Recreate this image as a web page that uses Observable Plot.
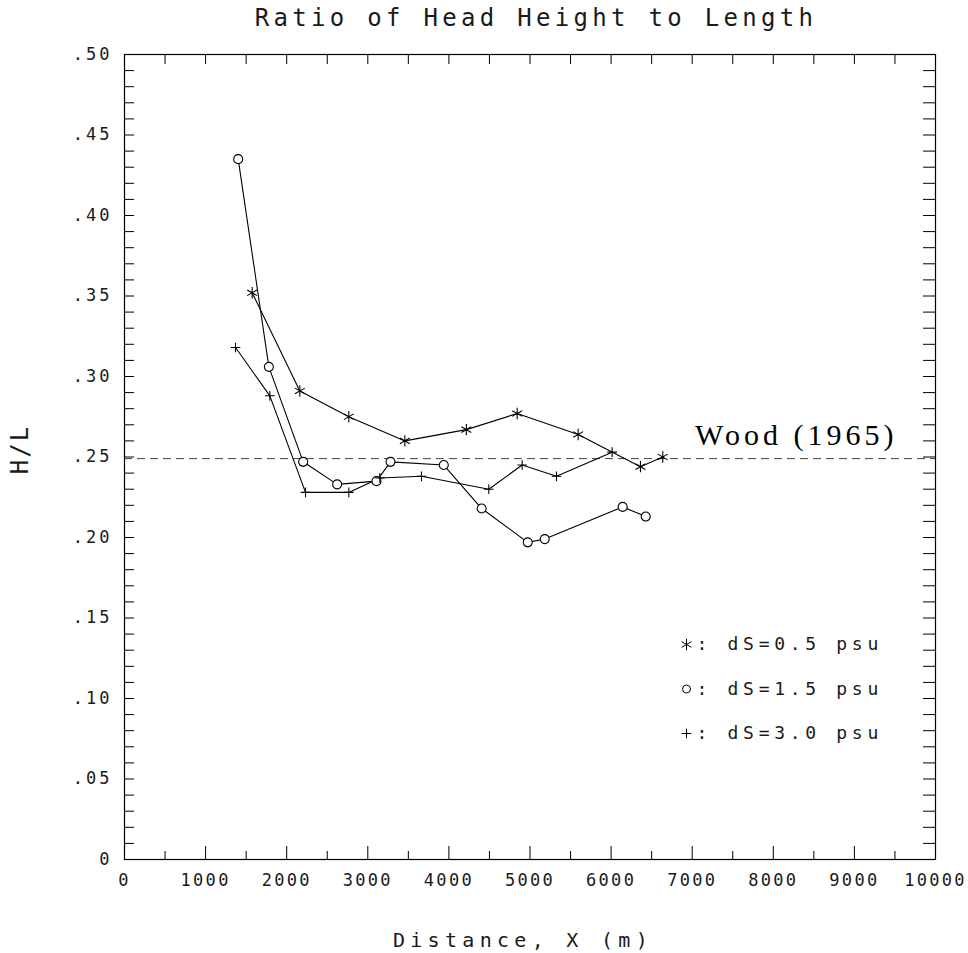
<!DOCTYPE html>
<html>
<head>
<meta charset="utf-8">
<script src="https://cdn.jsdelivr.net/npm/d3@7"></script>
<script src="https://cdn.jsdelivr.net/npm/@observablehq/plot@0.6"></script>
<style>
  body { margin: 0; background: #fff; }
  g[aria-label="x-axis tick label"] { letter-spacing: 2.3px; }
  g[aria-label="y-axis tick label"] { letter-spacing: 3px; }
  g[aria-description="title"] { letter-spacing: 4.3px; }
  g[aria-description="x label"] { letter-spacing: 5.3px; }
  g[aria-description="y label"] { letter-spacing: 2px; }
  g[aria-description="legend label"] { letter-spacing: 4.7px; }
  g[aria-description="reference label"] { letter-spacing: 4px; }
</style>
</head>
<body>
<div id="chart"></div>
<script>
// Head height / length ratio against distance, for three salinity differences
const seriesLabels = ["dS=0.5 psu", "dS=1.5 psu", "dS=3.0 psu"];
const seriesSymbols = ["asterisk", "circle", "plus"];

const distance05 = [1574, 2162, 2766, 3457, 4215, 4842, 5594, 6362, 6637];
const ratio05    = [0.352, 0.291, 0.275, 0.260, 0.267, 0.277, 0.264, 0.244, 0.250];

const distance15 = [1402, 1780, 2203, 2622, 3107, 3280, 3937, 4404, 4972, 5182, 6143, 6427];
const ratio15    = [0.435, 0.306, 0.247, 0.233, 0.235, 0.247, 0.245, 0.218, 0.197, 0.199, 0.219, 0.213];

const distance30 = [1369, 1792, 2232, 2766, 3148, 3662, 4492, 4903, 5327, 6013];
const ratio30    = [0.318, 0.288, 0.228, 0.228, 0.237, 0.238, 0.230, 0.245, 0.238, 0.253];

// Wood (1965) reference value
const woodRatio = 0.249;
const woodLabel = "Wood (1965)";

const xTickLabels = [0, 1000, 2000, 3000, 4000, 5000, 6000, 7000, 8000, 9000, 10000];
const yTickLabels = [0, 0.05, 0.10, 0.15, 0.20, 0.25, 0.30, 0.35, 0.40, 0.45, 0.50];

const toRows = (xs, ys, k) => xs.map((x, i) => ({x, y: ys[i], series: seriesLabels[k]}));
const groups = [
  toRows(distance05, ratio05, 0),
  toRows(distance15, ratio15, 1),
  toRows(distance30, ratio30, 2)
];

const W = 968, H = 953;
const margin = {top: 54, right: 33, bottom: 94, left: 124};
const frameW = W - margin.left - margin.right;
const frameH = H - margin.top - margin.bottom;

// tick positions for the inward tick marks
const xMajor = d3.range(0, 10001, 1000);
const xMinor = d3.range(500, 10000, 1000);
const xAll = d3.range(0, 10001, 500);
const yAll = d3.range(0, 51).map(i => i / 100);

const mono = "'DejaVu Sans Mono', 'Liberation Mono', monospace";
const ink = "#1a1a1a";
const symbolSize = {asterisk: 5.4, circle: 4.5, plus: 3.2};

const dotsFor = (rows, k) => {
  const s = seriesSymbols[k];
  return Plot.dot(rows, {
    x: "x", y: "y", symbol: () => s, r: symbolSize[s],
    stroke: "#000", strokeWidth: 1.1,
    fill: s === "circle" ? "#fff" : "none"
  });
};

const legendMarks = seriesLabels.flatMap((label, i) => {
  const s = seriesSymbols[i];
  const dy = 590 + i * 44.5;
  return [
    Plot.dot([label], {
      frameAnchor: "top-left", dx: 562, dy,
      symbol: () => s, r: s === "circle" ? 4 : symbolSize[s],
      stroke: "#000", strokeWidth: 1, fill: "none"
    }),
    Plot.text([": " + label], {
      frameAnchor: "top-left", dx: 572, dy, text: d => d,
      textAnchor: "start", lineAnchor: "middle", fontSize: 18, fontFamily: mono,
      fill: ink, ariaDescription: "legend label"
    })
  ];
});

const chart = Plot.plot({
  width: W,
  height: H,
  marginTop: margin.top,
  marginRight: margin.right,
  marginBottom: margin.bottom,
  marginLeft: margin.left,
  style: {fontFamily: mono, color: "#000", background: "#fff"},
  x: {domain: [0, 10000], label: null},
  y: {domain: [0, 0.5], label: null},
  marks: [
    // inward ticks: bottom (long at thousands, short at five hundreds), top, left, right
    Plot.ruleX(xMajor, {x: d => d, insetTop: frameH - 13, stroke: "#000", strokeWidth: 1}),
    Plot.ruleX(xMinor, {x: d => d, insetTop: frameH - 8, stroke: "#000", strokeWidth: 1}),
    Plot.ruleX(xAll, {x: d => d, insetBottom: frameH - 10, stroke: "#000", strokeWidth: 1}),
    Plot.ruleY(yAll, {y: d => d, insetRight: frameW - 10, stroke: "#000", strokeWidth: 1}),
    Plot.ruleY(yAll, {y: d => d, insetLeft: frameW - 12, stroke: "#000", strokeWidth: 1}),
    Plot.frame({stroke: "#000", strokeWidth: 1.2}),

    Plot.axisX(xTickLabels, {
      tickSize: 0, tickPadding: 14, fontSize: 17, label: null, fill: ink,
      tickFormat: d => String(d)
    }),
    Plot.axisY(yTickLabels, {
      tickSize: 0, tickPadding: 12, fontSize: 17, label: null, fill: ink,
      tickFormat: d => d === 0 ? "0" : d.toFixed(2).slice(1)
    }),

    // reference line and its label
    Plot.ruleY([woodRatio], {y: d => d, stroke: "#444", strokeWidth: 1, strokeDasharray: "8,5"}),
    Plot.text([woodLabel], {
      y: () => woodRatio, frameAnchor: "right", dx: -38, dy: -23, text: d => d,
      textAnchor: "end", lineAnchor: "middle", fontSize: 30,
      fontFamily: "'Liberation Serif', 'DejaVu Serif', serif",
      fill: "#000", ariaDescription: "reference label"
    }),

    // series lines and markers
    ...groups.map(rows => Plot.line(rows, {x: "x", y: "y", stroke: "#000", strokeWidth: 1.1})),
    ...groups.map((rows, k) => dotsFor(rows, k)),

    ...legendMarks,

    // titles
    Plot.text(["Ratio of Head Height to Length"], {
      frameAnchor: "top", dy: -36, dx: 6, text: d => d, fontSize: 24,
      textAnchor: "middle", lineAnchor: "middle", fill: ink, ariaDescription: "title"
    }),
    Plot.text(["Distance, X (m)"], {
      frameAnchor: "bottom", dy: 81, dx: -7, text: d => d, fontSize: 20,
      textAnchor: "middle", lineAnchor: "middle", fill: ink, ariaDescription: "x label"
    }),
    Plot.text(["H/L"], {
      frameAnchor: "left", dx: -104, dy: -7.5, rotate: -90, text: d => d, fontSize: 24,
      textAnchor: "middle", lineAnchor: "middle", fill: ink, ariaDescription: "y label"
    })
  ]
});

document.getElementById("chart").append(chart);
</script>
</body>
</html>
